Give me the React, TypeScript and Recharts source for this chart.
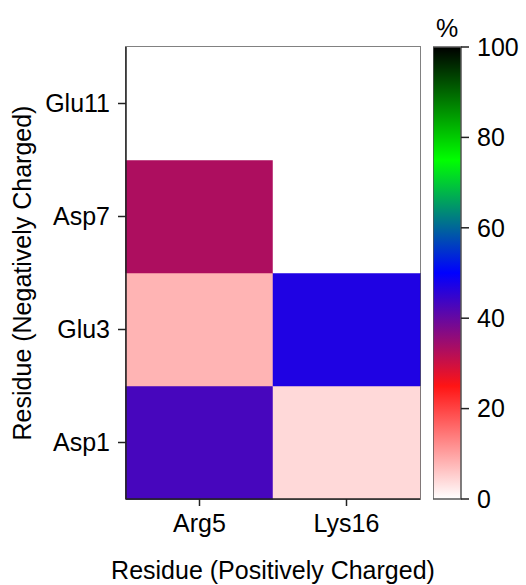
import { Bar, BarChart, Cell, ReferenceArea, XAxis, YAxis } from "recharts"

const rows = ["Asp1", "Glu3", "Asp7", "Glu11"]
const cols = ["Arg5", "Lys16"]
const arg5 = [43, 8, 33, 0]
const lys16 = [4, 47, 0, 0]
const colorTicks = [0, 20, 40, 60, 80, 100]

// colour map stops: value -> rgb
const stops: [number, number[]][] = [
  [0, [255, 255, 255]],
  [25, [255, 20, 20]],
  [50, [0, 0, 255]],
  [75, [0, 255, 0]],
  [100, [0, 0, 0]],
]

function colorFor(v: number) {
  for (let i = 1; i < stops.length; i++) {
    const [v0, c0] = stops[i - 1]
    const [v1, c1] = stops[i]
    if (v <= v1) {
      const t = (v - v0) / (v1 - v0)
      const c = c0.map((a, k) => Math.round(a + (c1[k] - a) * t))
      return `rgb(${c[0]},${c[1]},${c[2]})`
    }
  }
  return "rgb(0,0,0)"
}

const values = [arg5, lys16]
const data = cols.map((name) => ({ name, r0: 1, r1: 1, r2: 1, r3: 1 }))
const barData = [{ name: "%", v: 100 }]

const font = "'Liberation Sans', Arial, sans-serif"

function makeTick(anchor: "start" | "middle" | "end", dy: string, fmt?: (v: any) => string) {
  return (props: any) => {
    const { x, y, payload } = props
    const txt = fmt ? fmt(payload.value) : String(payload.value)
    return (
      <text x={x} y={y} dy={dy} textAnchor={anchor} fill="#000" fontSize={25} fontFamily={font}>
        {txt}
      </text>
    )
  }
}

const rowName = (v: number) => rows[Math.floor(v)]

export default function App() {
  return (
    <div style={{ position: "absolute", left: 0, top: 0, width: 526, height: 585, background: "#fff", fontFamily: font }}>
      <BarChart
        width={526}
        height={585}
        data={data}
        margin={{ top: 47, right: 106, bottom: 0, left: 0 }}
        barCategoryGap={0}
        barGap={0}
      >
        <XAxis
          dataKey="name"
          height={86}
          tick={makeTick("middle", "0.71em")}
          tickSize={7}
          tickMargin={8}
          axisLine={{ stroke: "#222", strokeWidth: 1.5 }}
          tickLine={{ stroke: "#222", strokeWidth: 1.5 }}
          label={{ value: "Residue (Positively Charged)", position: "insideBottom", offset: 6, fill: "#000", fontSize: 25, fontFamily: font }}
        />
        <YAxis
          type="number"
          domain={[0, 4]}
          ticks={[0.5, 1.5, 2.5, 3.5]}
          width={126}
          tick={makeTick("end", "0.355em", rowName)}
          tickSize={8}
          tickMargin={8}
          axisLine={{ stroke: "#222", strokeWidth: 1.5 }}
          tickLine={{ stroke: "#222", strokeWidth: 1.5 }}
          label={{
            value: "Residue (Negatively Charged)",
            angle: -90,
            position: "insideLeft",
            offset: 22,
            fill: "#000",
            fontSize: 25,
            fontFamily: font,
            style: { textAnchor: "middle" },
          }}
        />
        {rows.map((r, ri) => (
          <Bar key={r} dataKey={`r${ri}`} stackId="s" isAnimationActive={false}>
            {cols.map((c, ci) => (
              <Cell key={c} fill={colorFor(values[ci][ri])} stroke={colorFor(values[ci][ri])} strokeWidth={0.5} />
            ))}
          </Bar>
        ))}
        <ReferenceArea y1={0} y2={4} fill="none" stroke="#222" strokeWidth={1.5} ifOverflow="visible" />
      </BarChart>

      <div style={{ position: "absolute", left: 433, top: 14, width: 28, textAlign: "center", fontSize: 25, color: "#000" }}>%</div>

      <div style={{ position: "absolute", left: 433, top: 0 }}>
        <BarChart
          width={93}
          height={585}
          data={barData}
          margin={{ top: 47, right: 0, bottom: 86, left: 0 }}
          barCategoryGap={0}
        >
          <defs>
            <linearGradient id="cmap" x1="0" y1="1" x2="0" y2="0">
              {stops.map(([v, c]) => (
                <stop key={v} offset={`${v}%`} stopColor={`rgb(${c[0]},${c[1]},${c[2]})`} />
              ))}
            </linearGradient>
          </defs>
          <XAxis dataKey="name" hide />
          <YAxis
            orientation="right"
            type="number"
            domain={[0, 100]}
            ticks={colorTicks}
            width={65}
            tick={makeTick("start", "0.355em")}
            tickSize={8}
            tickMargin={8}
            axisLine={false}
            tickLine={{ stroke: "#222", strokeWidth: 1.5 }}
          />
          <Bar dataKey="v" fill="url(#cmap)" stroke="#555" strokeWidth={1.5} isAnimationActive={false} />
        </BarChart>
      </div>
    </div>
  )
}
